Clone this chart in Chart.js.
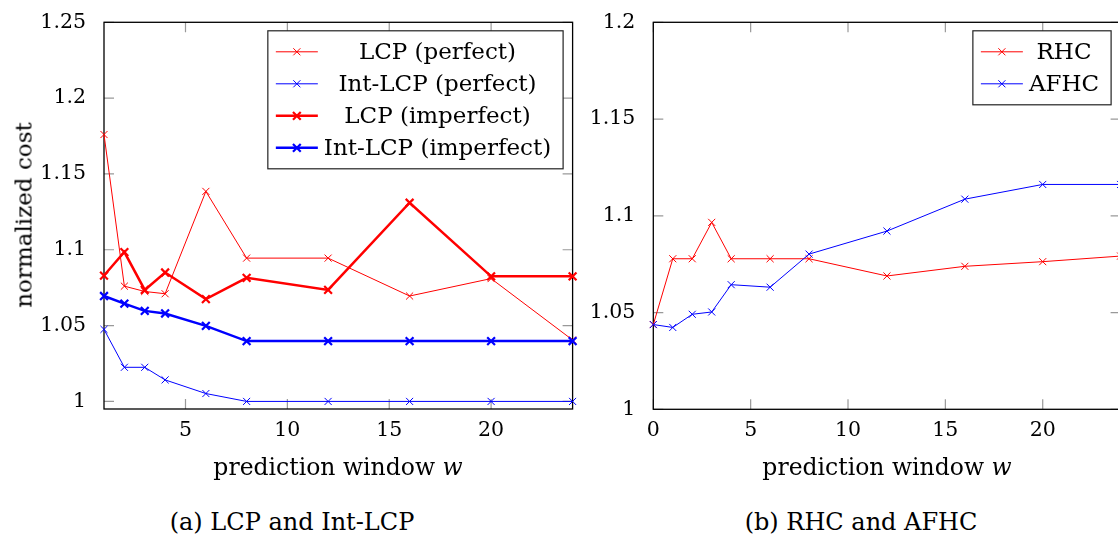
<!DOCTYPE html>
<html>
<head>
<meta charset="utf-8">
<script src="https://cdn.jsdelivr.net/npm/chart.js@4.4.1/dist/chart.umd.min.js"></script>
<style>
  html, body { margin: 0; padding: 0; background: #fff; overflow: hidden; }
  body { width: 1118px; height: 539px; position: relative; font-family: 'DejaVu Serif', serif; color: #000; }
  .box { position: absolute; top: 0; }
  .lbl { position: absolute; white-space: nowrap; line-height: 1; }
</style>
</head>
<body>
<div class="box" style="left:0;width:600px;height:470px"><canvas id="chartA" width="600" height="470"></canvas></div>
<div class="box" style="left:560px;width:590px;height:470px"><canvas id="chartB" width="590" height="470"></canvas></div>

<div class="lbl" style="left:23.7px;top:215px;font-size:23px;transform:translate(-50%,-50%) rotate(-90deg)">normalized cost</div>
<div class="lbl" style="left:338px;top:456px;font-size:23.5px;transform:translateX(-50%)">prediction window <i>w</i></div>
<div class="lbl" style="left:887px;top:456px;font-size:23.5px;transform:translateX(-50%)">prediction window <i>w</i></div>
<div class="lbl" style="left:292px;top:510px;font-size:24px;transform:translateX(-50%)">(a) LCP and Int-LCP</div>
<div class="lbl" style="left:861px;top:510px;font-size:24px;transform:translateX(-50%)">(b) RHC and AFHC</div>

<script>
// (a) LCP and Int-LCP
const windowsA = [1, 2, 3, 4, 6, 8, 12, 16, 20, 24];
const lcpPerfect = [1.176, 1.076, 1.0725, 1.071, 1.1385, 1.0945, 1.0945, 1.0695, 1.081, 1.0405];
const intLcpPerfect = [1.0475, 1.0225, 1.0225, 1.0142, 1.0052, 1.0, 1.0, 1.0, 1.0, 1.0];
const lcpImperfect = [1.083, 1.0985, 1.0735, 1.085, 1.0675, 1.0815, 1.0735, 1.131, 1.0825, 1.0825];
const intLcpImperfect = [1.0695, 1.0645, 1.0597, 1.058, 1.0498, 1.0398, 1.0398, 1.0398, 1.0398, 1.0398];
const xTicksA = [5, 10, 15, 20];
const yTicksA = [1, 1.05, 1.1, 1.15, 1.2, 1.25];

// (b) RHC and AFHC
const windowsB = [0, 1, 2, 3, 4, 6, 8, 12, 16, 20, 24];
const rhc = [1.0438, 1.0778, 1.0778, 1.0966, 1.0778, 1.0778, 1.0778, 1.0689, 1.0739, 1.0763, 1.0792];
const afhc = [1.0438, 1.0423, 1.0491, 1.0503, 1.0644, 1.0631, 1.0802, 1.0921, 1.1086, 1.1162, 1.1162];
const xTicksB = [0, 5, 10, 15, 20];
const yTicksB = [1, 1.05, 1.1, 1.15, 1.2];

Chart.defaults.font.family = "'DejaVu Serif', serif";
Chart.defaults.color = "#000";

const pts = (xs, ys) => xs.map((x, i) => ({ x: x, y: ys[i] }));

function series(label, xs, ys, color, thick, order) {
  return {
    label: label,
    data: pts(xs, ys),
    borderColor: color,
    backgroundColor: color,
    borderWidth: thick ? 2.5 : 1,
    pointStyle: "crossRot",
    pointRadius: thick ? 5.5 : 5,
    pointBorderWidth: thick ? 2.2 : 1,
    pointHoverRadius: 5,
    tension: 0,
    clip: false,
    order: order,
  };
}

// pgfplots style frame + inner tick marks
const frameTicks = {
  id: "frameTicks",
  beforeDatasetsDraw(chart) {
    const { ctx, chartArea: a, scales } = chart;
    ctx.save();
    ctx.strokeStyle = "#999";
    ctx.lineWidth = 1.2;
    ctx.beginPath();
    scales.x.ticks.forEach((t) => {
      const px = scales.x.getPixelForValue(t.value);
      ctx.moveTo(px, a.bottom); ctx.lineTo(px, a.bottom - 10);
      ctx.moveTo(px, a.top); ctx.lineTo(px, a.top + 10);
    });
    scales.y.ticks.forEach((t) => {
      const py = scales.y.getPixelForValue(t.value);
      ctx.moveTo(a.left, py); ctx.lineTo(a.left + 10, py);
      ctx.moveTo(a.right, py); ctx.lineTo(a.right - 10, py);
    });
    ctx.stroke();
    ctx.strokeStyle = "#000";
    ctx.lineWidth = 1.3;
    ctx.strokeRect(a.left, a.top, a.right - a.left, a.bottom - a.top);
    ctx.restore();
  },
};

// boxed legend in the top right corner of the plot
const boxLegend = {
  id: "boxLegend",
  afterDatasetsDraw(chart) {
    const { ctx, chartArea: a } = chart;
    const sets = chart.data.datasets;
    ctx.save();
    ctx.font = "23px 'DejaVu Serif'";
    const tw = Math.max(...sets.map((d) => ctx.measureText(d.label).width));
    const rowH = 32;
    const w = 56 + tw + 12;
    const h = 42 + rowH * (sets.length - 1);
    const left = a.right - 9.5 - w;
    const top = a.top + 8.5;
    ctx.fillStyle = "#fff";
    ctx.fillRect(left, top, w, h);
    ctx.strokeStyle = "#222";
    ctx.lineWidth = 1.2;
    ctx.strokeRect(left, top, w, h);
    sets.forEach((d, i) => {
      const cy = top + 21 + i * rowH;
      const cx = left + 29;
      ctx.strokeStyle = d.borderColor;
      ctx.lineWidth = d.borderWidth;
      ctx.beginPath();
      ctx.moveTo(left + 8, cy);
      ctx.lineTo(left + 50, cy);
      ctx.stroke();
      const r = d.pointRadius * 0.707;
      ctx.lineWidth = d.pointBorderWidth;
      ctx.beginPath();
      ctx.moveTo(cx - r, cy - r); ctx.lineTo(cx + r, cy + r);
      ctx.moveTo(cx - r, cy + r); ctx.lineTo(cx + r, cy - r);
      ctx.stroke();
      ctx.fillStyle = "#000";
      ctx.textAlign = "center";
      ctx.textBaseline = "middle";
      ctx.fillText(d.label, left + 56 + tw / 2, cy + 1);
    });
    ctx.restore();
  },
};

const fmt = (v) => String(+Number(v).toFixed(2));

function makeOptions(o) {
  return {
    responsive: false,
    animation: false,
    devicePixelRatio: 1,
    layout: { padding: { left: 0, top: o.top, right: o.right, bottom: 0 } },
    plugins: { legend: { display: false }, tooltip: { enabled: false } },
    scales: {
      x: {
        type: "linear",
        min: o.xMin,
        max: o.xMax,
        grid: { display: false },
        border: { display: false },
        afterBuildTicks: (s) => { s.ticks = o.xTicks.map((v) => ({ value: v })); },
        afterFit: (s) => { s.height = o.xH; },
        ticks: { font: { size: 20.5 }, padding: 1, autoSkip: false, maxRotation: 0, callback: fmt },
      },
      y: {
        type: "linear",
        min: o.yMin,
        max: o.yMax,
        grid: { display: false },
        border: { display: false },
        afterBuildTicks: (s) => { s.ticks = o.yTicks.map((v) => ({ value: v })); },
        afterFit: (s) => { s.width = o.yW; },
        ticks: { font: { size: 20.5 }, padding: 10, autoSkip: false, callback: fmt },
      },
    },
  };
}

new Chart(document.getElementById("chartA"), {
  type: "line",
  data: {
    datasets: [
      series("LCP (perfect)", windowsA, lcpPerfect, "#ff0000", false, 4),
      series("Int-LCP (perfect)", windowsA, intLcpPerfect, "#0000ff", false, 3),
      series("LCP (imperfect)", windowsA, lcpImperfect, "#ff0000", true, 2),
      series("Int-LCP (imperfect)", windowsA, intLcpImperfect, "#0000ff", true, 1),
    ],
  },
  options: makeOptions({
    top: 20, right: 27.4, xH: 61, yW: 104,
    xMin: 1, xMax: 24, yMin: 0.995, yMax: 1.25,
    xTicks: xTicksA, yTicks: yTicksA,
  }),
  plugins: [frameTicks, boxLegend],
});

new Chart(document.getElementById("chartB"), {
  type: "line",
  data: {
    datasets: [
      series("RHC", windowsB, rhc, "#ff0000", false, 2),
      series("AFHC", windowsB, afhc, "#0000ff", false, 1),
    ],
  },
  options: makeOptions({
    top: 21.7, right: 29.4, xH: 60.7, yW: 93.3,
    xMin: 0, xMax: 24, yMin: 1, yMax: 1.2,
    xTicks: xTicksB, yTicks: yTicksB,
  }),
  plugins: [frameTicks, boxLegend],
});
</script>
</body>
</html>
